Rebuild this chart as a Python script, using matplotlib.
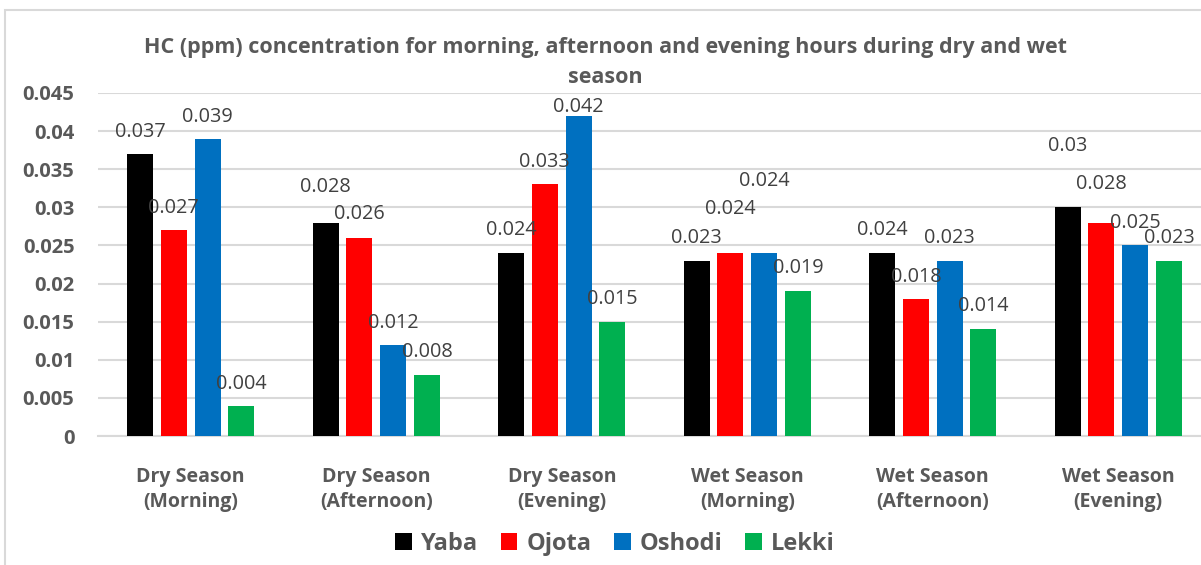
import numpy as np
import matplotlib
matplotlib.use("Agg")
import matplotlib.pyplot as plt
from matplotlib.patches import Rectangle

plt.rcParams['font.family'] = ['Open Sans', 'DejaVu Sans']

# data
categories = ["Dry Season\n(Morning)", "Dry Season\n(Afternoon)", "Dry Season\n(Evening)",
              "Wet Season\n(Morning)", "Wet Season\n(Afternoon)", "Wet Season\n(Evening)"]
yaba = [0.037, 0.028, 0.024, 0.023, 0.024, 0.030]
ojota = [0.027, 0.026, 0.033, 0.024, 0.018, 0.028]
oshodi = [0.039, 0.012, 0.042, 0.024, 0.023, 0.025]
lekki = [0.004, 0.008, 0.015, 0.019, 0.014, 0.023]
series = {"Yaba": yaba, "Ojota": ojota, "Oshodi": oshodi, "Lekki": lekki}
colors = ["#000000", "#FF0000", "#0070C0", "#00B050"]

# label offsets above bar tops (pixels), imitating Excel's collision avoidance
label_off = {
    "Yaba":   [22, 36, 23, 23, 23, 61],
    "Ojota":  [22, 24, 22, 44, 22, 39],
    "Oshodi": [22, 22, 9, 72, 23, 22],
    "Lekki":  [22, 23, 23, 23, 23, 23],
}

W, H = 1201, 565
fig = plt.figure(figsize=(W / 100, H / 100), dpi=100)
ax = fig.add_axes([98 / W, 129 / H, 1113 / W, 343 / H])

x = np.arange(len(categories))
pitch = 0.182
width = 0.14
for i, (name, vals) in enumerate(series.items()):
    pos = x + (i - 1.5) * pitch
    ax.bar(pos, vals, width, color=colors[i], label=name, zorder=3)
    for px, v, off in zip(pos, vals, label_off[name]):
        ax.annotate(f"{v:g}", (px, v), xytext=(0, off * 0.72), textcoords="offset points",
                    ha="center", va="center", fontsize=14.3, color="#404040", zorder=4)

ax.set_xlim(-0.5, 5.5)
ax.set_ylim(0, 0.045)
ticks = np.round(np.arange(0, 0.0451, 0.005), 3)
ax.set_yticks(ticks)
ax.set_yticklabels([f"{t:g}" for t in ticks])
ax.set_xticks(x)
ax.set_xticklabels(categories, linespacing=1.35)
ax.yaxis.grid(True, color="#D9D9D9", linewidth=1.5, zorder=0)
for s in ["top", "right", "left"]:
    ax.spines[s].set_visible(False)
ax.spines["bottom"].set_color("#D9D9D9")
ax.spines["bottom"].set_linewidth(1.5)
ax.tick_params(axis="both", length=0, labelcolor="#595959")
ax.tick_params(axis="y", pad=17, labelsize=14.5)
ax.tick_params(axis="x", pad=22, labelsize=14)
for t in ax.get_xticklabels() + ax.get_yticklabels():
    t.set_fontweight("bold")

fig.text(605 / W, 1 - 37 / H,
         "HC (ppm) concentration for morning, afternoon and evening hours during dry and wet\nseason",
         ha="center", va="top", fontsize=15.5, fontweight="bold", color="#595959", linespacing=1.55)

leg = fig.legend(loc="center", bbox_to_anchor=(615 / W, 1 - 544 / H), ncol=4, frameon=False,
                 handlelength=0.7, handleheight=0.7, handletextpad=0.4, columnspacing=0.95,
                 prop={"weight": "bold", "size": 17})
for t in leg.get_texts():
    t.set_color("#595959")

fig.patches.append(Rectangle((5 / W, -0.1), 1.2, 1 - 10 / H + 0.1, transform=fig.transFigure,
                             fill=False, edgecolor="#D9D9D9", linewidth=1.5))

fig.savefig("out.png", dpi=100)
